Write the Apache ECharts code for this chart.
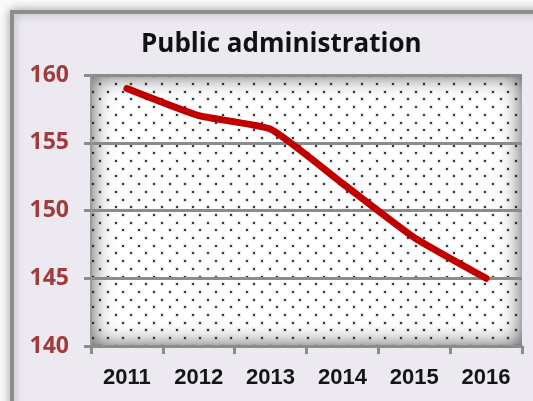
<!DOCTYPE html>
<html>
<head>
<meta charset="utf-8">
<script src="https://cdn.jsdelivr.net/npm/echarts@6/dist/echarts.min.js"></script>
<style>
  html, body { margin: 0; padding: 0; background: #fafafa; }
  #chart { width: 533px; height: 401px; }
</style>
</head>
<body>
<div id="chart"></div>
<script>
// Employment in public administration, by year
const years = ['2011', '2012', '2013', '2014', '2015', '2016'];
const employment = [159, 157, 156, 152, 148, 145];
const yMin = 140, yMax = 160, yStep = 5;

// Plot-area box (pixels)
const plot = { left: 91, top: 75, right: 11, bottom: 55 };
const W = 533, H = 401;
const pw = W - plot.left - plot.right;
const ph = H - plot.top - plot.bottom;

// Dotted backdrop with a soft inner shadow
function makeBackdrop(w, h) {
  const c = document.createElement('canvas');
  c.width = w; c.height = h;
  const ctx = c.getContext('2d');
  ctx.fillStyle = '#ffffff';
  ctx.fillRect(0, 0, w, h);
  ctx.save();
  ctx.beginPath();
  ctx.rect(0, 0, w, h);
  ctx.clip();
  ctx.shadowColor = 'rgba(0,0,0,0.7)';
  ctx.shadowBlur = 22;
  ctx.beginPath();
  ctx.rect(-60, -60, w + 120, h + 120);
  ctx.rect(0, 0, w, h);
  ctx.fillStyle = '#777';
  ctx.fill('evenodd');
  ctx.restore();
  const sx = 15.4, sy = 7.7;
  for (let r = 0; 1.3 + r * sy < h; r++) {
    const y = Math.round(1.3 + r * sy);
    const off = (r % 2) ? sx / 2 : 0;
    for (let x = 1.5 + off; x < w; x += sx) {
      const xi = Math.round(x);
      ctx.fillStyle = 'rgba(60,60,60,0.12)';
      ctx.fillRect(xi - 2, y - 2, 4, 4);
      ctx.fillStyle = 'rgba(25,25,25,0.85)';
      ctx.fillRect(xi - 1, y - 1, 2, 2);
    }
  }
  return c;
}

const chart = echarts.init(document.getElementById('chart'), null, { renderer: 'canvas' });
const gridGray = '#8c8c8c';

chart.setOption({
  backgroundColor: '#fafafa',
  animation: false,
  title: {
    text: 'Public administration',
    left: 136,
    top: 27,
    textStyle: { fontFamily: 'Open Sans', fontWeight: 'bold', fontSize: 26, color: '#111111' }
  },
  graphic: {
    elements: [
      {
        type: 'rect', z: -3, silent: true,
        shape: { x: 12, y: 12, width: 700, height: 600 },
        style: { fill: '#ECE9F1', stroke: '#8d8d8d', lineWidth: 4,
                 shadowBlur: 10, shadowColor: 'rgba(0,0,0,0.3)' }
      },
      {
        type: 'image', z: -2, silent: true,
        left: plot.left, top: plot.top,
        style: { image: makeBackdrop(pw, ph), width: pw, height: ph }
      }
    ]
  },
  grid: { left: plot.left, top: plot.top, right: plot.right, bottom: plot.bottom, containLabel: false },
  xAxis: {
    type: 'category',
    data: years,
    boundaryGap: true,
    axisLine: { show: true, lineStyle: { color: gridGray, width: 3 } },
    axisTick: { show: true, length: 8, lineStyle: { color: gridGray, width: 3 } },
    axisLabel: {
      margin: 21,
      fontFamily: 'Liberation Sans',
      fontWeight: 'bold',
      fontSize: 22,
      color: '#151515'
    },
    splitLine: { show: false }
  },
  yAxis: {
    type: 'value',
    min: yMin, max: yMax, interval: yStep,
    axisLine: { show: true, lineStyle: { color: '#9a9a9a', width: 2 } },
    axisTick: { show: true, length: 7, lineStyle: { color: gridGray, width: 3 } },
    axisLabel: {
      margin: 22,
      fontFamily: 'Open Sans',
      fontWeight: 'bold',
      fontSize: 23,
      color: '#A23C3C'
    },
    splitLine: { show: true, lineStyle: { color: gridGray, width: 3 } }
  },
  series: [{
    type: 'line',
    data: employment,
    smooth: 0.15,
    symbol: 'none',
    lineStyle: { color: '#C00000', width: 7, cap: 'round', join: 'round' },
    z: 5
  }]
});
</script>
</body>
</html>
